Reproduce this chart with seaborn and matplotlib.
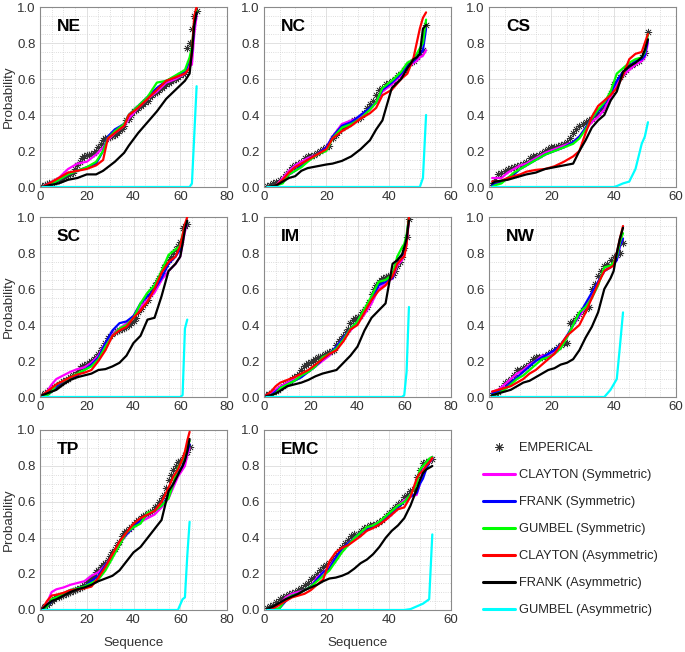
import numpy as np
import matplotlib
matplotlib.use('Agg')
import matplotlib.pyplot as plt
from matplotlib.lines import Line2D
from matplotlib.ticker import AutoMinorLocator
import seaborn as sns

sns.set_theme(style='white')
plt.rcParams['font.family'] = ['Liberation Sans', 'DejaVu Sans']

# series names / colours (legend order)
labels = ['EMPERICAL', 'CLAYTON (Symmetric)', 'FRANK (Symmetric)', 'GUMBEL (Symmetric)',
          'CLAYTON (Asymmetric)', 'FRANK (Asymmetric)', 'GUMBEL (Asymmetric)']
colors = ['black', '#ff00ff', '#0000ff', '#00ff00', '#ff0000', 'black', '#00ffff']

# ---------------- NE ----------------
ne_emp = [0.005, 0.01, 0.015, 0.02, 0.025, 0.03, 0.035, 0.04, 0.045, 0.05,
          0.06, 0.065, 0.07, 0.08, 0.10, 0.12, 0.14, 0.16, 0.17, 0.18,
          0.18, 0.185, 0.19, 0.20, 0.22, 0.24, 0.26, 0.27, 0.275, 0.28,
          0.285, 0.29, 0.30, 0.31, 0.32, 0.34, 0.37, 0.38, 0.40, 0.42,
          0.43, 0.44, 0.45, 0.46, 0.47, 0.48, 0.50, 0.51, 0.52, 0.53,
          0.54, 0.55, 0.56, 0.57, 0.58, 0.59, 0.595, 0.60, 0.61, 0.62,
          0.63, 0.64, 0.77, 0.80, 0.88, 0.95, 0.98]
ne_x = [1, 4, 8, 12, 16, 20, 24, 27, 29, 32, 36, 38, 42, 46, 50, 54, 58, 62, 64, 65, 66, 67]
ne_clay_s = [0, 0.02, 0.05, 0.10, 0.13, 0.14, 0.18, 0.22, 0.26, 0.30, 0.34, 0.38, 0.44, 0.49, 0.53, 0.58, 0.60, 0.63, 0.67, 0.68, 0.85, 0.95]
ne_frank_s = [0, 0.01, 0.04, 0.07, 0.09, 0.11, 0.13, 0.20, 0.28, 0.32, 0.35, 0.40, 0.45, 0.50, 0.55, 0.59, 0.61, 0.64, 0.70, 0.74, 0.90, 0.97]
ne_gumb_s = [0, 0.01, 0.04, 0.07, 0.09, 0.11, 0.14, 0.20, 0.27, 0.31, 0.35, 0.40, 0.45, 0.50, 0.58, 0.59, 0.62, 0.65, 0.72, 0.78, 0.92, 0.98]
ne_clay_a = [0, 0.02, 0.05, 0.08, 0.09, 0.10, 0.12, 0.15, 0.27, 0.30, 0.34, 0.40, 0.44, 0.49, 0.54, 0.59, 0.61, 0.63, 0.66, 0.75, 0.95, 1.0]
ne_frank_a = [0, 0.01, 0.02, 0.04, 0.05, 0.07, 0.07, 0.09, 0.11, 0.14, 0.19, 0.23, 0.30, 0.36, 0.42, 0.49, 0.54, 0.59, 0.63, 0.75, 0.90, 0.97]
ne_gx = [1, 64, 65, 67]
ne_gumb_a = [0, 0, 0.02, 0.56]

# ---------------- NC ----------------
nc_emp = [0.005, 0.01, 0.02, 0.03, 0.04, 0.05, 0.07, 0.09, 0.11, 0.12,
          0.13, 0.14, 0.16, 0.17, 0.175, 0.18, 0.19, 0.20, 0.21, 0.22,
          0.23, 0.27, 0.29, 0.31, 0.33, 0.34, 0.35, 0.36, 0.37, 0.38,
          0.39, 0.41, 0.44, 0.46, 0.48, 0.51, 0.54, 0.55, 0.57, 0.58,
          0.59, 0.60, 0.62, 0.63, 0.65, 0.67, 0.69, 0.70, 0.72, 0.74,
          0.76, 0.90]
nc_x = [1, 4, 6, 8, 10, 12, 14, 17, 20, 22, 25, 28, 31, 34, 36, 38, 41, 44, 46, 48, 49, 50, 51, 52]
nc_clay_s = [0, 0.01, 0.05, 0.09, 0.12, 0.14, 0.16, 0.18, 0.22, 0.28, 0.35, 0.37, 0.39, 0.43, 0.47, 0.53, 0.57, 0.62, 0.66, 0.69, 0.70, 0.72, 0.73, 0.76]
nc_frank_s = [0, 0.01, 0.03, 0.07, 0.09, 0.12, 0.15, 0.18, 0.22, 0.28, 0.34, 0.36, 0.40, 0.44, 0.47, 0.54, 0.58, 0.63, 0.67, 0.70, 0.72, 0.74, 0.76, 0.88]
nc_gumb_s = [0, 0.01, 0.02, 0.07, 0.09, 0.11, 0.14, 0.18, 0.20, 0.27, 0.33, 0.35, 0.38, 0.43, 0.47, 0.55, 0.59, 0.64, 0.69, 0.71, 0.74, 0.77, 0.80, 0.93]
nc_clay_a = [0, 0.01, 0.04, 0.08, 0.11, 0.13, 0.15, 0.18, 0.21, 0.27, 0.31, 0.34, 0.38, 0.41, 0.44, 0.51, 0.54, 0.60, 0.63, 0.72, 0.80, 0.88, 0.94, 0.97]
nc_frank_a = [0, 0.01, 0.03, 0.05, 0.06, 0.09, 0.105, 0.115, 0.125, 0.13, 0.145, 0.17, 0.21, 0.26, 0.32, 0.37, 0.55, 0.60, 0.66, 0.71, 0.72, 0.74, 0.88, 0.90]
nc_gx = [1, 50, 51, 52]
nc_gumb_a = [0, 0, 0.05, 0.40]

# ---------------- CS ----------------
cs_emp = [0.01, 0.04, 0.07, 0.08, 0.09, 0.10, 0.105, 0.11, 0.115, 0.12,
          0.13, 0.14, 0.16, 0.17, 0.175, 0.18, 0.19, 0.20, 0.21, 0.22,
          0.225, 0.23, 0.235, 0.24, 0.25, 0.27, 0.30, 0.32, 0.34, 0.35,
          0.36, 0.37, 0.38, 0.40, 0.41, 0.43, 0.45, 0.48, 0.52, 0.57,
          0.59, 0.61, 0.63, 0.65, 0.67, 0.68, 0.69, 0.70, 0.72, 0.745,
          0.86]
cs_x = [1, 2, 4, 6, 8, 10, 12, 15, 18, 21, 24, 27, 29, 31, 33, 35, 37, 39, 41, 43, 45, 47, 49, 50, 51]
cs_clay_s = [0.05, 0.05, 0.05, 0.08, 0.10, 0.12, 0.13, 0.16, 0.19, 0.21, 0.23, 0.25, 0.28, 0.32, 0.36, 0.39, 0.43, 0.50, 0.57, 0.62, 0.65, 0.68, 0.70, 0.72, 0.80]
cs_frank_s = [0.01, 0.02, 0.03, 0.05, 0.07, 0.10, 0.12, 0.15, 0.18, 0.20, 0.22, 0.25, 0.28, 0.33, 0.38, 0.42, 0.46, 0.52, 0.59, 0.64, 0.67, 0.70, 0.71, 0.73, 0.82]
cs_gumb_s = [0.0, 0.01, 0.02, 0.05, 0.08, 0.10, 0.12, 0.15, 0.18, 0.20, 0.22, 0.24, 0.27, 0.32, 0.38, 0.43, 0.47, 0.53, 0.63, 0.66, 0.69, 0.71, 0.72, 0.75, 0.85]
cs_clay_a = [0.03, 0.03, 0.035, 0.05, 0.06, 0.07, 0.085, 0.095, 0.10, 0.115, 0.14, 0.17, 0.20, 0.30, 0.39, 0.45, 0.48, 0.51, 0.55, 0.62, 0.71, 0.74, 0.75, 0.80, 0.85]
cs_frank_a = [0.02, 0.03, 0.035, 0.04, 0.05, 0.06, 0.07, 0.08, 0.10, 0.11, 0.12, 0.13, 0.20, 0.26, 0.33, 0.37, 0.40, 0.48, 0.53, 0.64, 0.67, 0.69, 0.72, 0.76, 0.82]
cs_gx = [1, 40, 41, 43, 45, 47, 49, 50, 51]
cs_gumb_a = [0, 0, 0.005, 0.02, 0.03, 0.10, 0.24, 0.28, 0.36]

# ---------------- SC ----------------
sc_emp = [0.01, 0.02, 0.03, 0.04, 0.05, 0.055, 0.06, 0.07, 0.08, 0.09,
          0.095, 0.10, 0.11, 0.12, 0.125, 0.14, 0.16, 0.17, 0.18, 0.185,
          0.19, 0.20, 0.21, 0.22, 0.24, 0.26, 0.28, 0.30, 0.33, 0.34,
          0.35, 0.36, 0.365, 0.37, 0.38, 0.385, 0.39, 0.40, 0.41, 0.42,
          0.44, 0.47, 0.49, 0.51, 0.52, 0.54, 0.57, 0.60, 0.62, 0.64,
          0.66, 0.69, 0.72, 0.74, 0.76, 0.78, 0.80, 0.82, 0.84, 0.86,
          0.94, 0.95, 0.96]
sc_x = [1, 3, 5, 7, 10, 13, 16, 19, 22, 25, 28, 31, 34, 37, 40, 43, 46, 49, 52, 55, 58, 60, 61, 62, 63]
sc_clay_s = [0.005, 0.03, 0.07, 0.10, 0.12, 0.14, 0.155, 0.165, 0.19, 0.23, 0.30, 0.35, 0.38, 0.41, 0.45, 0.50, 0.54, 0.58, 0.65, 0.70, 0.74, 0.78, 0.85, 0.92, 0.97]
sc_frank_s = [0.005, 0.01, 0.03, 0.06, 0.09, 0.11, 0.12, 0.15, 0.18, 0.22, 0.30, 0.37, 0.41, 0.42, 0.45, 0.52, 0.56, 0.60, 0.66, 0.74, 0.78, 0.82, 0.88, 0.94, 0.97]
sc_gumb_s = [0.005, 0.01, 0.03, 0.07, 0.09, 0.11, 0.13, 0.15, 0.17, 0.21, 0.28, 0.34, 0.38, 0.40, 0.44, 0.52, 0.58, 0.62, 0.70, 0.79, 0.82, 0.84, 0.90, 0.95, 0.97]
sc_clay_a = [0.01, 0.03, 0.05, 0.07, 0.09, 0.11, 0.125, 0.135, 0.15, 0.20, 0.26, 0.34, 0.37, 0.39, 0.44, 0.48, 0.53, 0.60, 0.69, 0.75, 0.78, 0.84, 0.90, 0.96, 1.0]
sc_frank_a = [0.01, 0.02, 0.03, 0.04, 0.07, 0.095, 0.11, 0.12, 0.13, 0.15, 0.155, 0.17, 0.19, 0.23, 0.30, 0.34, 0.43, 0.44, 0.56, 0.70, 0.74, 0.78, 0.85, 0.93, 0.98]
sc_gx = [1, 60, 61, 62, 63]
sc_gumb_a = [0, 0, 0.01, 0.38, 0.43]

# ---------------- IM ----------------
im_emp = [0.01, 0.015, 0.02, 0.03, 0.035, 0.04, 0.05, 0.06, 0.07, 0.08,
          0.09, 0.10, 0.11, 0.115, 0.13, 0.15, 0.17, 0.18, 0.19, 0.195,
          0.20, 0.21, 0.22, 0.225, 0.23, 0.24, 0.245, 0.25, 0.255, 0.26,
          0.29, 0.31, 0.32, 0.34, 0.36, 0.38, 0.41, 0.43, 0.44, 0.445,
          0.45, 0.47, 0.49, 0.50, 0.53, 0.57, 0.60, 0.62, 0.64, 0.65,
          0.66, 0.665, 0.67, 0.67, 0.68, 0.70, 0.73, 0.75, 0.78, 0.83,
          0.89, 0.99]
im_x = [1, 3, 5, 7, 10, 13, 16, 19, 22, 25, 28, 31, 34, 37, 40, 43, 46, 49, 52, 55, 57, 59, 60, 61, 62]
im_clay_s = [0.01, 0.02, 0.04, 0.06, 0.08, 0.10, 0.12, 0.14, 0.17, 0.20, 0.23, 0.28, 0.33, 0.37, 0.41, 0.46, 0.52, 0.60, 0.63, 0.66, 0.73, 0.76, 0.79, 0.85, 0.98]
im_frank_s = [0.0, 0.01, 0.03, 0.05, 0.07, 0.09, 0.11, 0.14, 0.17, 0.21, 0.24, 0.28, 0.33, 0.38, 0.42, 0.48, 0.54, 0.62, 0.64, 0.66, 0.76, 0.79, 0.80, 0.88, 1.0]
im_gumb_s = [0.0, 0.01, 0.02, 0.05, 0.07, 0.09, 0.12, 0.14, 0.17, 0.22, 0.24, 0.27, 0.32, 0.38, 0.42, 0.49, 0.56, 0.64, 0.65, 0.68, 0.78, 0.83, 0.85, 0.90, 1.0]
im_clay_a = [0.01, 0.03, 0.06, 0.08, 0.095, 0.11, 0.13, 0.15, 0.18, 0.21, 0.24, 0.26, 0.31, 0.375, 0.40, 0.47, 0.54, 0.59, 0.62, 0.67, 0.74, 0.77, 0.78, 0.85, 1.0]
im_frank_a = [0.005, 0.01, 0.02, 0.035, 0.06, 0.07, 0.08, 0.095, 0.115, 0.13, 0.14, 0.15, 0.19, 0.23, 0.28, 0.37, 0.44, 0.48, 0.52, 0.74, 0.76, 0.79, 0.83, 0.88, 0.98]
im_gx = [1, 59, 60, 61, 62]
im_gumb_a = [0, 0, 0.01, 0.14, 0.50]

# ---------------- NW ----------------
nw_emp = [0.01, 0.02, 0.03, 0.05, 0.08, 0.09, 0.10, 0.12, 0.15, 0.15,
          0.16, 0.17, 0.19, 0.21, 0.22, 0.22, 0.22, 0.23, 0.24, 0.25,
          0.26, 0.28, 0.29, 0.30, 0.30, 0.41, 0.42, 0.44, 0.46, 0.485,
          0.49, 0.50, 0.60, 0.63, 0.67, 0.70, 0.73, 0.74, 0.76, 0.78,
          0.79, 0.80, 0.855]
nw_x = [1, 3, 5, 7, 9, 11, 13, 15, 17, 19, 21, 23, 25, 27, 29, 31, 33, 35, 37, 39, 40, 41, 42, 43]
nw_clay_s = [0.03, 0.04, 0.07, 0.10, 0.13, 0.15, 0.18, 0.20, 0.23, 0.23, 0.25, 0.28, 0.33, 0.40, 0.45, 0.50, 0.56, 0.64, 0.70, 0.73, 0.74, 0.76, 0.84, 0.88]
nw_frank_s = [0.02, 0.03, 0.05, 0.08, 0.11, 0.14, 0.17, 0.20, 0.22, 0.24, 0.26, 0.29, 0.34, 0.40, 0.46, 0.52, 0.58, 0.64, 0.70, 0.72, 0.74, 0.76, 0.84, 0.88]
nw_gumb_s = [0.01, 0.02, 0.04, 0.07, 0.10, 0.12, 0.15, 0.18, 0.21, 0.22, 0.24, 0.27, 0.33, 0.40, 0.47, 0.50, 0.55, 0.62, 0.72, 0.73, 0.75, 0.78, 0.86, 0.91]
nw_clay_a = [0.03, 0.04, 0.05, 0.06, 0.08, 0.10, 0.13, 0.15, 0.18, 0.21, 0.24, 0.29, 0.34, 0.37, 0.40, 0.47, 0.55, 0.63, 0.70, 0.72, 0.73, 0.80, 0.88, 0.95]
nw_frank_a = [0.01, 0.02, 0.03, 0.04, 0.06, 0.08, 0.09, 0.11, 0.13, 0.15, 0.16, 0.18, 0.19, 0.21, 0.26, 0.33, 0.39, 0.47, 0.60, 0.66, 0.70, 0.80, 0.88, 0.94]
nw_gx = [1, 37, 39, 40, 41, 42, 43]
nw_gumb_a = [0, 0, 0.04, 0.07, 0.10, 0.28, 0.47]

# ---------------- TP ----------------
tp_emp = [0.01, 0.02, 0.03, 0.04, 0.05, 0.06, 0.07, 0.075, 0.08, 0.085,
          0.09, 0.095, 0.10, 0.105, 0.11, 0.115, 0.125, 0.13, 0.14, 0.155,
          0.165, 0.18, 0.19, 0.21, 0.22, 0.24, 0.25, 0.26, 0.28, 0.30,
          0.32, 0.34, 0.36, 0.38, 0.41, 0.43, 0.44, 0.45, 0.46, 0.48,
          0.49, 0.50, 0.51, 0.525, 0.53, 0.54, 0.545, 0.55, 0.57, 0.58,
          0.60, 0.62, 0.64, 0.68, 0.72, 0.75, 0.78, 0.80, 0.82, 0.83,
          0.84, 0.86, 0.88, 0.905]
tp_x = [1, 3, 5, 7, 10, 13, 16, 19, 22, 25, 28, 31, 34, 37, 40, 43, 46, 49, 52, 55, 57, 59, 61, 62, 63, 64]
tp_clay_s = [0.005, 0.04, 0.10, 0.115, 0.125, 0.14, 0.15, 0.16, 0.19, 0.21, 0.25, 0.30, 0.37, 0.42, 0.46, 0.49, 0.51, 0.53, 0.57, 0.62, 0.68, 0.74, 0.78, 0.80, 0.86, 0.90]
tp_frank_s = [0.0, 0.02, 0.05, 0.07, 0.09, 0.11, 0.12, 0.13, 0.16, 0.19, 0.25, 0.30, 0.37, 0.42, 0.46, 0.50, 0.53, 0.55, 0.58, 0.63, 0.70, 0.76, 0.80, 0.84, 0.88, 0.92]
tp_gumb_s = [0.0, 0.02, 0.06, 0.07, 0.09, 0.11, 0.12, 0.13, 0.15, 0.17, 0.22, 0.29, 0.36, 0.43, 0.46, 0.48, 0.54, 0.55, 0.58, 0.62, 0.70, 0.79, 0.83, 0.87, 0.91, 0.94]
tp_clay_a = [0.005, 0.05, 0.08, 0.085, 0.095, 0.11, 0.115, 0.12, 0.13, 0.18, 0.24, 0.31, 0.38, 0.43, 0.48, 0.51, 0.53, 0.55, 0.60, 0.68, 0.74, 0.78, 0.84, 0.88, 0.94, 0.99]
tp_frank_a = [0.005, 0.03, 0.05, 0.06, 0.08, 0.10, 0.115, 0.125, 0.14, 0.16, 0.175, 0.19, 0.22, 0.27, 0.32, 0.35, 0.40, 0.45, 0.50, 0.66, 0.70, 0.75, 0.80, 0.83, 0.88, 0.95]
tp_gx = [1, 59, 61, 62, 63, 64]
tp_gumb_a = [0, 0, 0.06, 0.07, 0.30, 0.49]

# ---------------- EMC ----------------
emc_emp = [0.01, 0.02, 0.03, 0.045, 0.06, 0.07, 0.08, 0.09, 0.095, 0.10,
           0.11, 0.12, 0.14, 0.15, 0.17, 0.185, 0.20, 0.22, 0.24, 0.25,
           0.26, 0.28, 0.30, 0.33, 0.35, 0.37, 0.39, 0.41, 0.42, 0.425,
           0.44, 0.455, 0.46, 0.47, 0.475, 0.48, 0.49, 0.50, 0.52, 0.54,
           0.555, 0.57, 0.59, 0.60, 0.63, 0.64, 0.66, 0.67, 0.74, 0.78,
           0.815, 0.82, 0.83, 0.84]
emc_x = [1, 3, 5, 7, 9, 11, 13, 15, 17, 19, 21, 23, 25, 27, 29, 31, 33, 35, 37, 39, 41, 43, 45, 47, 49, 50, 51, 52, 53, 54]
emc_clay_s = [0.0, 0.01, 0.03, 0.07, 0.09, 0.10, 0.11, 0.13, 0.18, 0.21, 0.24, 0.29, 0.33, 0.37, 0.40, 0.43, 0.45, 0.47, 0.49, 0.50, 0.53, 0.58, 0.61, 0.63, 0.64, 0.70, 0.78, 0.80, 0.82, 0.84]
emc_frank_s = [0.0, 0.0, 0.01, 0.05, 0.08, 0.09, 0.11, 0.13, 0.17, 0.21, 0.23, 0.29, 0.34, 0.37, 0.40, 0.43, 0.45, 0.46, 0.48, 0.51, 0.54, 0.57, 0.60, 0.63, 0.65, 0.70, 0.73, 0.78, 0.82, 0.85]
emc_gumb_s = [0.0, 0.0, 0.01, 0.06, 0.08, 0.09, 0.11, 0.13, 0.16, 0.19, 0.22, 0.27, 0.32, 0.36, 0.40, 0.43, 0.46, 0.47, 0.49, 0.52, 0.55, 0.58, 0.60, 0.64, 0.70, 0.78, 0.80, 0.82, 0.84, 0.85]
emc_clay_a = [0.005, 0.01, 0.03, 0.05, 0.07, 0.08, 0.09, 0.11, 0.14, 0.17, 0.27, 0.32, 0.345, 0.36, 0.385, 0.41, 0.44, 0.455, 0.475, 0.50, 0.53, 0.56, 0.57, 0.63, 0.73, 0.76, 0.77, 0.80, 0.82, 0.845]
emc_frank_a = [0.005, 0.02, 0.04, 0.06, 0.075, 0.09, 0.11, 0.125, 0.14, 0.16, 0.175, 0.18, 0.19, 0.205, 0.23, 0.26, 0.28, 0.31, 0.35, 0.40, 0.44, 0.47, 0.51, 0.58, 0.67, 0.72, 0.76, 0.78, 0.79, 0.80]
emc_gx = [1, 45, 47, 49, 51, 53, 54]
emc_gumb_a = [0, 0, 0.005, 0.02, 0.035, 0.06, 0.42]

W, H = 685, 652
fig = plt.figure(figsize=(W / 100, H / 100), dpi=100)

col_left = [40, 264, 489]
row_top = [7, 217, 430]
aw, ah = 187, 180

asterisk = (8, 2, 0)


def draw_panel(ax, name, emp, x, cs, fs, gs, ca, fa, gx, ga, xmax, ylab=False, xlab=False):
    n = np.arange(1, len(emp) + 1)
    # empirical markers sit under the fitted lines
    sns.scatterplot(x=n, y=emp, ax=ax, marker=asterisk, color='#333333', s=24,
                    linewidth=0.5, zorder=2, legend=False)
    for ys, c in zip([cs, fs, gs, ca, fa], colors[1:6]):
        sns.lineplot(x=x, y=ys, ax=ax, color=c, lw=1.6, sort=False, legend=False, zorder=3)
    sns.lineplot(x=gx, y=ga, ax=ax, color=colors[6], lw=1.6, sort=False, legend=False, zorder=3)

    ax.set_xlim(0, xmax)
    ax.set_ylim(0, 1)
    ax.set_xticks(np.arange(0, xmax + 1, 20))
    ax.set_yticks(np.arange(0, 1.01, 0.2))
    ax.set_yticklabels(['%.1f' % v for v in np.arange(0, 1.01, 0.2)])
    ax.xaxis.set_minor_locator(AutoMinorLocator(4))
    ax.yaxis.set_minor_locator(AutoMinorLocator(4))
    ax.grid(True, which='major', color='#dcdcdc', lw=0.6, ls='-')
    ax.grid(True, which='minor', color='#d2d2d2', lw=0.6, ls=':')
    ax.set_axisbelow(True)
    ax.tick_params(which='major', direction='in', length=3, width=0.6, color='#777777',
                   labelsize=9.5, labelcolor='#333333', pad=3)
    ax.tick_params(which='minor', length=0)
    for sp in ax.spines.values():
        sp.set_color('#8a8a8a')
        sp.set_linewidth(0.8)
    ax.text(0.09, 0.89, name, transform=ax.transAxes, fontsize=12.5,
            fontweight='bold', va='center', ha='left', color='black')
    ax.set_xlabel('Sequence' if xlab else '', fontsize=9.6, color='#333333', labelpad=8)
    ax.set_ylabel('Probability' if ylab else '', fontsize=9.6, color='#333333', labelpad=2)


panels = [
    ('NE', ne_emp, ne_x, ne_clay_s, ne_frank_s, ne_gumb_s, ne_clay_a, ne_frank_a, ne_gx, ne_gumb_a, 80),
    ('NC', nc_emp, nc_x, nc_clay_s, nc_frank_s, nc_gumb_s, nc_clay_a, nc_frank_a, nc_gx, nc_gumb_a, 60),
    ('CS', cs_emp, cs_x, cs_clay_s, cs_frank_s, cs_gumb_s, cs_clay_a, cs_frank_a, cs_gx, cs_gumb_a, 60),
    ('SC', sc_emp, sc_x, sc_clay_s, sc_frank_s, sc_gumb_s, sc_clay_a, sc_frank_a, sc_gx, sc_gumb_a, 80),
    ('IM', im_emp, im_x, im_clay_s, im_frank_s, im_gumb_s, im_clay_a, im_frank_a, im_gx, im_gumb_a, 80),
    ('NW', nw_emp, nw_x, nw_clay_s, nw_frank_s, nw_gumb_s, nw_clay_a, nw_frank_a, nw_gx, nw_gumb_a, 60),
    ('TP', tp_emp, tp_x, tp_clay_s, tp_frank_s, tp_gumb_s, tp_clay_a, tp_frank_a, tp_gx, tp_gumb_a, 80),
    ('EMC', emc_emp, emc_x, emc_clay_s, emc_frank_s, emc_gumb_s, emc_clay_a, emc_frank_a, emc_gx, emc_gumb_a, 60),
]

for i, p in enumerate(panels):
    r, c = divmod(i, 3)
    ax = fig.add_axes([col_left[c] / W, 1 - (row_top[r] + ah) / H, aw / W, ah / H])
    draw_panel(ax, *p, ylab=(c == 0), xlab=(r == 2))

# legend in the empty ninth slot
handles = [Line2D([], [], ls='none', marker=asterisk, color='#333333', markersize=6, markeredgewidth=0.7)]
handles += [Line2D([], [], color=c, lw=2.2) for c in colors[1:]]
fig.legend(handles, labels, loc='upper left', bbox_to_anchor=(483 / W, 1 - 442 / H),
           frameon=False, fontsize=9.3, handlelength=2.45, handletextpad=0.3,
           labelspacing=1.16, borderpad=0, borderaxespad=0)

fig.savefig('out.png', dpi=100)
